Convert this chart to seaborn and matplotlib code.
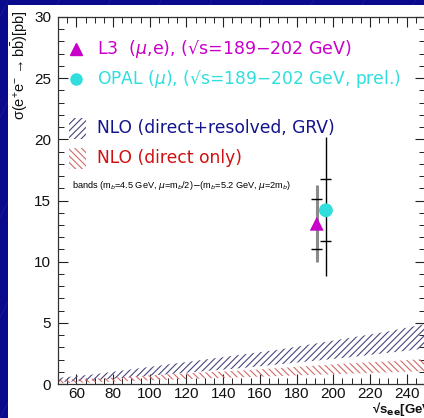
import numpy as np
import pandas as pd
import matplotlib
matplotlib.use("Agg")
import matplotlib.pyplot as plt
from matplotlib.patches import Rectangle
import seaborn as sns

# ---- data ----
band_x = [50, 70, 90, 110, 130, 150, 170, 190, 210, 230, 250]
nlo_full_hi = [0.5, 0.8, 1.2, 1.6, 2.0, 2.4, 2.8, 3.3, 3.8, 4.3, 4.9]
nlo_full_lo = [0.15, 0.3, 0.55, 0.8, 1.05, 1.3, 1.6, 1.9, 2.2, 2.55, 2.9]
nlo_dir_hi = [0.35, 0.45, 0.6, 0.8, 0.95, 1.1, 1.3, 1.5, 1.7, 1.85, 2.05]
nlo_dir_lo = [0.05, 0.15, 0.25, 0.35, 0.45, 0.55, 0.65, 0.75, 0.85, 0.95, 1.05]

exp_names = ["L3", "OPAL"]
exp_x = [191, 196]
exp_y = [13.1, 14.2]
exp_stat = [2.05, 2.55]
exp_lo_tot = [10.0, 8.8]
exp_hi_tot = [16.3, 20.2]

MAG = "#c800c8"
CYA = "#30dede"
BLU = "#14148c"
RED = "#d01010"
NAVY = "#0a0a8c"
HBLU = "#46467e"
HRED = "#d06a6a"
HB = "/////"
HR = "\\\\\\\\\\"

sns.set_style("ticks")
plt.rcParams["font.family"] = ["Liberation Sans", "DejaVu Sans"]
plt.rcParams["hatch.linewidth"] = 0.8
plt.rcParams["mathtext.fontset"] = "dejavusans"

fig = plt.figure(figsize=(4.24, 4.18), dpi=100)
fig.patch.set_facecolor(NAVY)
for k in range(-6, 10):
    fig.add_artist(plt.Line2D([k * 0.12, k * 0.12 + 0.5], [0, 1], transform=fig.transFigure,
                              color="#3a3ab0", lw=0.4, alpha=0.5, zorder=0))
fig.add_artist(Rectangle((8 / 424, 0), 1, (418 - 5) / 418, transform=fig.transFigure,
                         facecolor="white", edgecolor="none", zorder=0.5))

ax = fig.add_axes([58 / 424, (418 - 384) / 418, (425 - 58) / 424, (384 - 17) / 418])
ax.set_facecolor("white")
ax.set_zorder(2)

# bands
ax.fill_between(band_x, nlo_full_lo, nlo_full_hi, facecolor="none", edgecolor=HBLU,
                hatch=HB, linewidth=0)
ax.fill_between(band_x, nlo_dir_lo, nlo_dir_hi, facecolor="none", edgecolor=HRED,
                hatch=HR, linewidth=0)

# error bars
ax.vlines(exp_x[0], exp_lo_tot[0], exp_hi_tot[0], color="#8a8a8a", lw=2.2, zorder=3)
ax.vlines(exp_x[1], exp_lo_tot[1], exp_hi_tot[1], color="black", lw=1.0, zorder=3)
for xx, yy, ss in zip(exp_x, exp_y, exp_stat):
    ax.hlines([yy - ss, yy + ss], xx - 3, xx + 3, color="black", lw=1.0, zorder=4)

df = pd.DataFrame({"x": exp_x, "y": exp_y, "exp": exp_names})
sns.scatterplot(data=df, x="x", y="y", hue="exp", style="exp",
                palette={"L3": MAG, "OPAL": CYA}, markers={"L3": "^", "OPAL": "o"},
                s=100, edgecolor="none", legend=False, ax=ax, zorder=5)

ax.set_xlim(50, 250)
ax.set_ylim(0, 30)
ax.set_xticks(np.arange(60, 250, 20))
ax.set_xticks(np.arange(50, 251, 5), minor=True)
ax.set_yticks(np.arange(0, 31, 5))
ax.set_yticks(np.arange(0, 31, 1), minor=True)
ax.tick_params(which="both", direction="in", top=True, right=True, colors="#222222",
               labelsize=11, labelcolor="#111111")
ax.tick_params(which="major", length=7, width=0.8)
ax.tick_params(which="minor", length=4, width=0.7)
ax.tick_params(axis="x", pad=2)
ax.tick_params(axis="y", pad=5)
for s in ax.spines.values():
    s.set_color("#333333")
    s.set_linewidth(0.9)
ax.set_xlabel("")
ax.set_ylabel("")

# legend-like annotations
tf = ax.transAxes
lfs = 12.5
ax.plot([0.049], [0.913], marker="^", color=MAG, ms=9, transform=tf, clip_on=False)
ax.text(0.107, 0.913, "L3  (" + r"$\mu$" + ",e), (√s=189−202 GeV)", color=MAG, fontsize=lfs,
        family=["DejaVu Sans"], va="center", ha="left", transform=tf)
ax.plot([0.049], [0.831], marker="o", color=CYA, ms=8, transform=tf, clip_on=False)
ax.text(0.107, 0.831, "OPAL (" + r"$\mu$" + "), (√s=189−202 GeV, prel.)", color=CYA, fontsize=12.3,
        family=["DejaVu Sans"], va="center", ha="left", transform=tf)
ax.add_patch(Rectangle((0.030, 0.668), 0.045, 0.058, transform=tf, facecolor="none",
                       edgecolor=HBLU, hatch=HB, linewidth=0))
ax.text(0.107, 0.698, "NLO (direct+resolved, GRV)", color=BLU, fontsize=12.3,
        family=["DejaVu Sans"], va="center", ha="left", transform=tf)
ax.add_patch(Rectangle((0.030, 0.586), 0.045, 0.058, transform=tf, facecolor="none",
                       edgecolor=HRED, hatch=HR, linewidth=0))
ax.text(0.107, 0.616, "NLO (direct only)", color=RED, fontsize=12.3,
        family=["DejaVu Sans"], va="center", ha="left", transform=tf)
ax.text(0.038, 0.540, r"bands (m$_b$=4.5 GeV, $\mu$=m$_b$/2)$-$(m$_b$=5.2 GeV, $\mu$=2m$_b$)",
        color="black", fontsize=6.6, va="center", ha="left", transform=tf)

fig.text(20 / 424, (418 - 10) / 418,
         r"$\mathregular{\sigma(e^{+}e^{-}\rightarrow b\bar{b})[pb]}$",
         rotation=90, ha="center", va="top", fontsize=10.5, color="#111111")
fig.text(372 / 424, (418 - 413) / 418, r"√s$_{\mathbf{ee}}$[GeV]", fontweight="bold",
         ha="left", va="baseline", fontsize=9.5, color="#111111")

fig.savefig("out.png", dpi=100, facecolor=fig.get_facecolor())
